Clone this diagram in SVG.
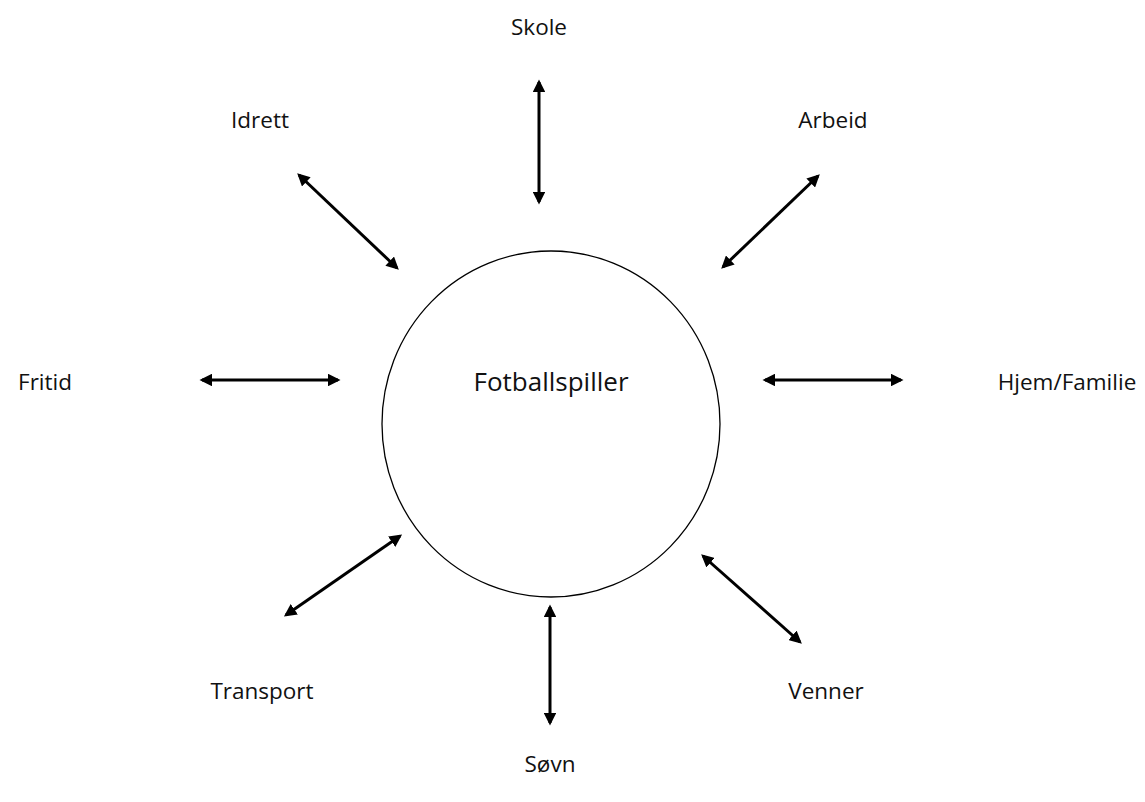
<svg xmlns="http://www.w3.org/2000/svg" width="1145" height="802" viewBox="0 0 1145 802">
<style>
text{font-family:"Open Sans","Liberation Sans",sans-serif;font-size:22.5px;fill:#111;text-anchor:middle}
.c{stroke:#000;stroke-width:3;fill:none;marker-start:url(#ah);marker-end:url(#ah)}
</style>
<defs>
<marker id="ah" viewBox="0 0 10 10" refX="8" refY="5" markerWidth="4.2" markerHeight="4.2" orient="auto-start-reverse" markerUnits="strokeWidth">
<path d="M0,0 L10,5 L0,10 z" fill="#000"/>
</marker>
</defs>
<rect width="1145" height="802" fill="#fff"/>
<g id="center">
<ellipse cx="551" cy="424" rx="169" ry="173" fill="none" stroke="#000" stroke-width="1.3"/>
<text x="551" y="391" style="font-size:26px">Fotballspiller</text>
</g>
<g id="skole"><text x="539" y="35">Skole</text></g>
<g id="idrett"><text x="260" y="128">Idrett</text></g>
<g id="arbeid"><text x="833" y="128">Arbeid</text></g>
<g id="fritid"><text x="45" y="390">Fritid</text></g>
<g id="hjem"><text x="1067" y="390">Hjem/Familie</text></g>
<g id="transport"><text x="262" y="699">Transport</text></g>
<g id="venner"><text x="826" y="699">Venner</text></g>
<g id="sovn"><text x="550" y="772">Søvn</text></g>
<g id="connectors">
<line class="c" x1="539" y1="82" x2="539" y2="202"/>
<line class="c" x1="299" y1="175" x2="397" y2="268"/>
<line class="c" x1="818" y1="176" x2="723" y2="267"/>
<line class="c" x1="202" y1="380" x2="338" y2="380"/>
<line class="c" x1="765" y1="380" x2="901" y2="380"/>
<line class="c" x1="400" y1="536" x2="286" y2="615"/>
<line class="c" x1="550" y1="607" x2="550" y2="723"/>
<line class="c" x1="703" y1="556" x2="800" y2="642"/>
</g>
</svg>
